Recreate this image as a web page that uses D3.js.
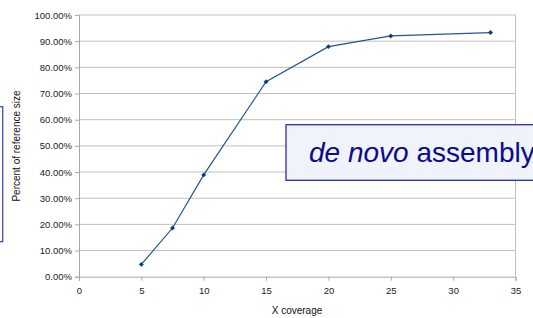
<!DOCTYPE html>
<html>
<head>
<meta charset="utf-8">
<script src="https://cdn.jsdelivr.net/npm/d3@7"></script>
<style>
  body { margin: 0; background: #fff; }
  svg { display: block; font-family: "Liberation Sans", Arial, sans-serif; }
</style>
</head>
<body>
<svg id="chart" width="533" height="318"></svg>
<script>
// data
const coverage = [5, 7.5, 10, 15, 20, 25, 33];
const percentOfRef = [0.047, 0.186, 0.389, 0.745, 0.879, 0.920, 0.933];
const xTicks = [0, 5, 10, 15, 20, 25, 30, 35];
const yTicks = [0, 0.1, 0.2, 0.3, 0.4, 0.5, 0.6, 0.7, 0.8, 0.9, 1.0];

const GRID = "#c0c0c0";
const LINE = "#23558f";

const svg = d3.select("#chart");
const plot = {left: 79, right: 515.5, top: 15, bottom: 276.7};

let x = d3.scaleLinear().domain([0, 35]).range([plot.left, plot.right]);
let y = d3.scaleLinear().domain([0, 1]).range([plot.bottom, plot.top]);

// gridlines
svg.append("g")
    .selectAll("line")
    .data(yTicks.slice(1))
    .join("line")
    .attr("x1", plot.left).attr("x2", plot.right)
    .attr("y1", d => y(d)).attr("y2", d => y(d))
    .style("stroke", GRID).style("stroke-width", 1);

// right border of plot area
svg.append("line")
    .attr("x1", plot.right).attr("x2", plot.right)
    .attr("y1", plot.top).attr("y2", plot.bottom)
    .style("stroke", GRID);

// y axis
const yAxis = svg.append("g")
    .attr("transform", `translate(${plot.left},0)`)
    .call(d3.axisLeft(y).tickValues(yTicks).tickSize(4).tickPadding(3)
          .tickFormat(d => (d * 100).toFixed(2) + "%"));

// x axis
const xAxis = svg.append("g")
    .attr("transform", `translate(0,${plot.bottom})`)
    .call(d3.axisBottom(x).tickValues(xTicks).tickSize(4).tickPadding(7));

[yAxis, xAxis].forEach(a => {
    a.select(".domain").style("stroke", "#a8a8a8");
    a.selectAll(".tick line").style("stroke", "#a8a8a8");
    a.selectAll("text")
        .style("font-family", "'Liberation Sans', Arial, sans-serif")
        .style("font-size", "9.5px")
        .style("fill", "#222");
});

// series
const pts = coverage.map((c, i) => [c, percentOfRef[i]]);

svg.append("path")
    .datum(pts)
    .attr("d", d3.line().x(d => x(d[0])).y(d => y(d[1])))
    .style("fill", "none")
    .style("stroke", LINE)
    .style("stroke-width", 1.2);

// markers: small square diamonds
svg.append("g")
    .selectAll("path")
    .data(pts)
    .join("path")
    .attr("d", d3.symbol().type(d3.symbolSquare).size(12))
    .attr("transform", d => `translate(${x(d[0])},${y(d[1])}) rotate(45)`)
    .style("fill", "#0d3f7e");

// axis titles
svg.append("text")
    .text("X coverage")
    .attr("x", 297).attr("y", 314)
    .attr("text-anchor", "middle")
    .style("font-size", "10px")
    .style("fill", "#111");

svg.append("text")
    .text("Percent of reference size")
    .attr("text-anchor", "middle")
    .attr("transform", `translate(${[20, 146]}) rotate(270)`)
    .style("font-size", "10px")
    .style("fill", "#111");

// boxed label, runs off the right edge as in the original slide
svg.append("rect")
    .attr("x", 286).attr("y", 124.7)
    .attr("width", 280).attr("height", 55.6)
    .style("fill", "#f0f3fb")
    .style("stroke", "#2a2ab0")
    .style("stroke-width", 1.3);

const lbl = svg.append("text")
    .attr("x", 309).attr("y", 162)
    .style("font-size", "28px")
    .style("fill", "#0b0b8e");
lbl.append("tspan").text("de novo").style("font-style", "italic");
lbl.append("tspan").text(" assembly");

// edge of another box at the left border
svg.append("rect")
    .attr("x", -20).attr("y", 106.7)
    .attr("width", 22.7).attr("height", 135)
    .style("fill", "#fff")
    .style("stroke", "#3a3ab8")
    .style("stroke-width", 1.2);
</script>
</body>
</html>
